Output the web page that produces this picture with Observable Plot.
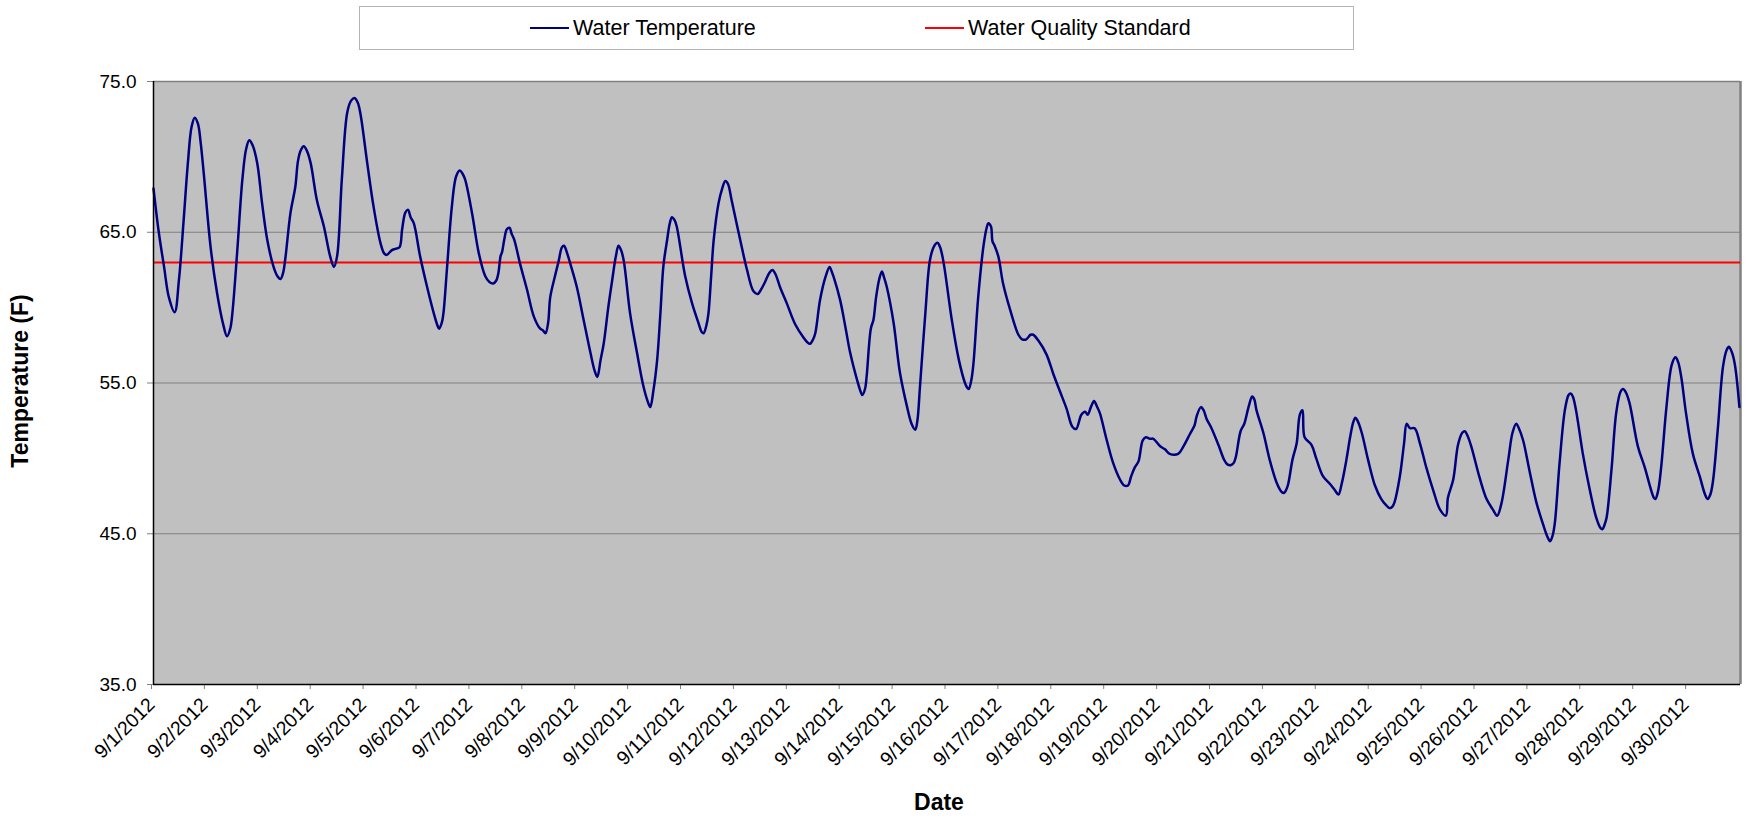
<!DOCTYPE html>
<html>
<head>
<meta charset="utf-8">
<script src="https://cdn.jsdelivr.net/npm/d3@7"></script>
<script src="https://cdn.jsdelivr.net/npm/@observablehq/plot@0.6"></script>
<style>
  html, body { margin: 0; padding: 0; background: #fff; }
  body { width: 1754px; height: 819px; position: relative; overflow: hidden; font-family: "Liberation Sans", Arial, sans-serif; }
  #legend { position: absolute; left: 359px; top: 6px; width: 993px; height: 42px; border: 1px solid #b4b4b4; box-sizing: content-box; background: #fff; }
  .item { position: absolute; top: 0; height: 42px; display: flex; align-items: center; font-size: 21.5px; color: #000; white-space: nowrap; }
  .swatch { display: inline-block; width: 39px; height: 0; border-top-width: 2.5px; border-top-style: solid; margin-right: 4px; }
  #chart { position: absolute; left: 0; top: 60px; }
</style>
</head>
<body>
<div id="legend"></div>
<div id="chart"></div>
<script>
// ---- Data ----
const startDate = Date.UTC(2012, 8, 1); // 9/1/2012
const elapsedDays = [
  0.00,0.10,0.20,0.29,0.40,0.48,0.57,0.65,0.72,0.78,0.84,0.89,0.95,1.08,1.20,1.31,1.39,1.45,1.49,1.58,
  1.68,1.75,1.81,1.87,1.96,2.05,2.15,2.27,2.34,2.40,2.45,2.49,2.59,2.68,2.73,2.78,2.84,2.90,2.97,3.09,
  3.22,3.34,3.41,3.47,3.56,3.66,3.73,3.80,3.86,3.91,4.04,4.16,4.29,4.36,4.41,4.50,4.57,4.65,4.70,4.76,
  4.81,4.86,4.92,5.04,5.17,5.30,5.37,5.40,5.45,5.48,5.55,5.64,5.72,5.79,5.84,5.89,6.02,6.15,6.27,6.35,
  6.42,6.48,6.52,6.56,6.59,6.63,6.68,6.73,6.77,6.82,6.93,7.06,7.19,7.31,7.36,7.41,7.46,7.50,7.59,7.66,
  7.72,7.76,7.82,7.88,8.00,8.13,8.26,8.34,8.39,8.45,8.51,8.60,8.67,8.74,8.79,8.84,8.89,9.01,9.14,9.26,
  9.34,9.39,9.45,9.52,9.58,9.64,9.71,9.76,9.80,9.85,9.89,10.05,10.18,10.30,10.36,10.40,10.45,10.49,10.54,10.59,
  10.68,10.75,10.81,10.86,10.93,11.09,11.22,11.34,11.42,11.50,11.56,11.64,11.70,11.76,11.85,11.97,12.13,12.29,12.36,12.41,
  12.47,12.51,12.60,12.70,12.78,12.82,12.86,12.98,13.08,13.17,13.30,13.37,13.40,13.45,13.48,13.56,13.61,13.66,13.72,13.77,
  13.81,13.86,13.99,14.11,14.24,14.33,14.40,14.44,14.49,14.59,14.68,14.76,14.82,14.87,14.93,15.09,15.22,15.34,15.38,15.41,
  15.46,15.50,15.59,15.69,15.75,15.78,15.83,15.86,15.90,15.97,16.06,16.19,16.35,16.42,16.50,16.58,16.63,16.73,16.88,17.01,
  17.14,17.26,17.37,17.44,17.54,17.61,17.66,17.72,17.78,17.84,17.89,18.02,18.14,18.27,18.35,18.42,18.48,18.55,18.62,18.70,
  18.76,18.84,18.90,19.03,19.12,19.21,19.37,19.47,19.59,19.68,19.72,19.80,19.85,19.91,20.00,20.13,20.24,20.30,20.37,20.42,
  20.46,20.55,20.62,20.70,20.77,20.81,20.85,20.98,21.10,21.23,21.32,21.37,21.41,21.45,21.53,21.61,21.67,21.72,21.76,21.89,
  21.98,22.11,22.24,22.33,22.40,22.46,22.55,22.62,22.68,22.72,22.76,22.84,22.96,23.09,23.21,23.30,23.37,23.42,23.46,23.56,
  23.64,23.69,23.75,23.84,23.94,24.06,24.19,24.32,24.43,24.47,24.57,24.66,24.74,24.79,24.84,24.91,25.07,25.20,25.32,25.40,
  25.48,25.61,25.69,25.76,25.81,25.89,26.01,26.14,26.27,26.35,26.40,26.45,26.49,26.58,26.68,26.75,26.79,26.83,26.89,27.02,
  27.14,27.27,27.35,27.39,27.43,27.47,27.56,27.65,27.73,27.78,27.83,27.90,28.06,28.19,28.31,28.36,28.39,28.44,28.50,28.60,
  28.70,28.77,28.82,28.88,28.97,29.10,29.23,29.33,29.38,29.43,29.48,29.57,29.67,29.74,29.78,29.83,29.89,29.98
];
const waterTempF = [
  67.9,65.0,62.7,60.7,59.7,61.8,65.8,69.6,72.0,72.6,72.2,71.0,68.9,64.0,61.0,59.0,58.1,58.6,59.6,63.6,
  68.5,70.5,71.1,70.8,69.6,67.0,64.5,62.7,62.1,61.9,62.3,63.2,66.3,68.0,69.7,70.4,70.7,70.4,69.6,67.1,
  65.4,63.4,62.7,63.4,68.5,72.9,73.7,73.9,73.6,72.9,69.6,66.7,64.3,63.6,63.5,63.8,63.9,64.0,65.2,66.3,
  66.5,66.0,65.6,63.4,61.4,59.6,58.8,58.6,59.0,59.6,62.7,66.7,68.7,69.1,68.9,68.5,66.3,63.6,62.1,61.7,
  61.6,61.8,62.3,63.4,63.7,64.5,65.2,65.3,64.9,64.5,62.9,61.2,59.4,58.6,58.5,58.3,59.0,60.7,62.1,63.1,
  64.0,64.1,63.6,62.9,61.4,59.2,57.0,55.8,55.4,56.5,57.6,60.1,61.8,63.4,64.1,63.8,63.1,59.6,57.0,54.8,
  53.8,53.4,54.5,56.5,59.5,62.8,64.5,65.6,66.0,65.8,65.4,62.1,60.3,59.0,58.4,58.3,58.8,59.6,62.0,64.5,
  66.9,67.9,68.4,68.2,67.1,64.5,62.5,61.1,60.9,61.3,61.7,62.3,62.5,62.2,61.3,60.3,58.9,58.0,57.7,57.6,
  57.9,58.3,60.5,62.0,62.7,62.4,62.0,60.5,58.7,57.0,55.2,54.4,54.2,54.6,55.4,58.6,59.2,60.7,61.9,62.4,
  62.0,61.4,59.0,55.7,53.5,52.3,51.9,52.5,54.8,59.6,63.2,64.1,64.3,64.0,63.1,59.2,56.6,55.0,54.7,54.6,
  55.2,56.3,60.7,64.1,65.3,65.6,65.4,64.4,64.1,63.4,61.6,59.9,58.2,57.9,57.9,58.2,58.2,57.8,56.9,55.6,
  54.4,53.3,52.1,51.95,52.9,53.1,52.9,53.4,53.8,53.4,53.0,51.2,49.7,48.6,48.2,48.2,48.8,49.4,49.8,51.2,
  51.4,51.3,51.3,50.8,50.6,50.3,50.3,50.8,51.6,52.2,52.8,53.4,53.2,52.6,52.0,50.9,49.9,49.6,49.56,49.7,
  50.1,51.8,52.3,53.4,54.1,53.9,53.2,51.7,49.9,48.4,47.8,47.7,47.9,48.3,49.9,51.0,52.9,53.2,51.4,50.9,
  50.0,48.8,48.3,47.9,47.6,48.3,49.9,51.4,52.4,52.7,52.5,51.7,49.9,48.2,47.3,46.9,46.7,46.8,47.1,48.8,
  51.0,52.3,52.0,52.0,51.0,49.4,47.9,46.6,46.2,47.4,48.6,50.9,51.7,51.8,51.5,50.8,48.7,47.3,46.6,46.2,
  47.0,49.9,51.7,52.3,52.0,51.2,49.2,47.1,45.6,44.8,44.5,44.9,45.7,49.7,53.2,54.2,54.3,54.1,53.2,50.3,
  48.1,46.1,45.4,45.3,45.6,46.1,49.2,53.0,54.4,54.6,54.4,53.7,50.8,49.4,47.9,47.4,47.3,47.8,49.4,53.4,
  56.2,56.7,56.4,55.4,53.0,50.3,48.8,47.6,47.3,47.6,48.5,51.9,56.1,57.2,57.4,57.1,56.3,53.4
];
const standardF = 63.0;
const yTicks = [35, 45, 55, 65, 75];
const dayCount = 30;
const seriesNames = ["Water Temperature", "Water Quality Standard"];
const seriesColors = ["#000080", "#FF0000"];

// ---- Build tables ----
const DAY = 86400000;
const temps = elapsedDays.map((d, i) => ({date: new Date(startDate + d * DAY), temp: waterTempF[i]}));
const dayTicks = d3.range(dayCount).map(i => new Date(startDate + i * DAY));
const xDomain = [new Date(startDate), new Date(startDate + dayCount * DAY)];
const fmt = d => `${d.getUTCMonth() + 1}/${d.getUTCDate()}/${d.getUTCFullYear()}`;

// ---- Legend ----
const legend = document.getElementById("legend");
[[170, 0], [565, 1]].forEach(([left, i]) => {
  const it = document.createElement("div");
  it.className = "item";
  it.style.left = left + "px";
  it.innerHTML = `<span class="swatch" style="border-top-color:${seriesColors[i]}"></span><span>${seriesNames[i]}</span>`;
  legend.appendChild(it);
});

// ---- Chart ----
const W = 1754, H = 759;
const chart = Plot.plot({
  width: W,
  height: H,
  marginTop: 21,
  marginBottom: 135,
  marginLeft: 153,
  marginRight: 14,
  style: {fontFamily: "'Liberation Sans', Arial, sans-serif", fontSize: "19px", color: "#000", background: "transparent"},
  x: {type: "utc", domain: xDomain},
  y: {domain: [35, 75]},
  marks: [
    Plot.frame({fill: "#C0C0C0", stroke: "none"}),
    Plot.ruleY(yTicks.slice(1, -1), {stroke: "#808080", strokeWidth: 1}),
    Plot.ruleY([75], {stroke: "#808080", strokeWidth: 1.5}),
    Plot.ruleX([xDomain[1]], {stroke: "#808080", strokeWidth: 2.5}),
    Plot.axisY({ticks: yTicks, tickFormat: d => d.toFixed(1), tickSize: 6, tickPadding: 11, stroke: "#808080", fontSize: 19, label: null}),
    Plot.axisX({ticks: dayTicks, tickFormat: fmt, tickRotate: -45, tickSize: 5, tickPadding: 12, dx: -2, stroke: "#808080", fontSize: 19.5, label: null}),
    Plot.ruleY([standardF], {stroke: seriesColors[1], strokeWidth: 2}),
    Plot.line(temps, {x: "date", y: "temp", stroke: seriesColors[0], strokeWidth: 2.5, curve: "catmull-rom"}),
    Plot.ruleX([xDomain[0]], {stroke: "#000", strokeWidth: 1.5}),
    Plot.ruleY([35], {stroke: "#000", strokeWidth: 1.5})
  ]
});
document.getElementById("chart").appendChild(chart);

// Axis titles
const svg = d3.select(chart);
svg.append("text")
  .attr("transform", `translate(20,${381 - 60}) rotate(-90)`)
  .attr("text-anchor", "middle").attr("dominant-baseline", "central")
  .attr("font-size", 23).attr("font-weight", "bold").attr("fill", "#000")
  .attr("font-family", "'Liberation Sans', Arial, sans-serif")
  .text("Temperature (F)");
svg.append("text")
  .attr("x", 939).attr("y", 802 - 60)
  .attr("text-anchor", "middle").attr("dominant-baseline", "central")
  .attr("font-size", 23).attr("font-weight", "bold").attr("fill", "#000")
  .attr("font-family", "'Liberation Sans', Arial, sans-serif")
  .text("Date");
</script>
</body>
</html>
